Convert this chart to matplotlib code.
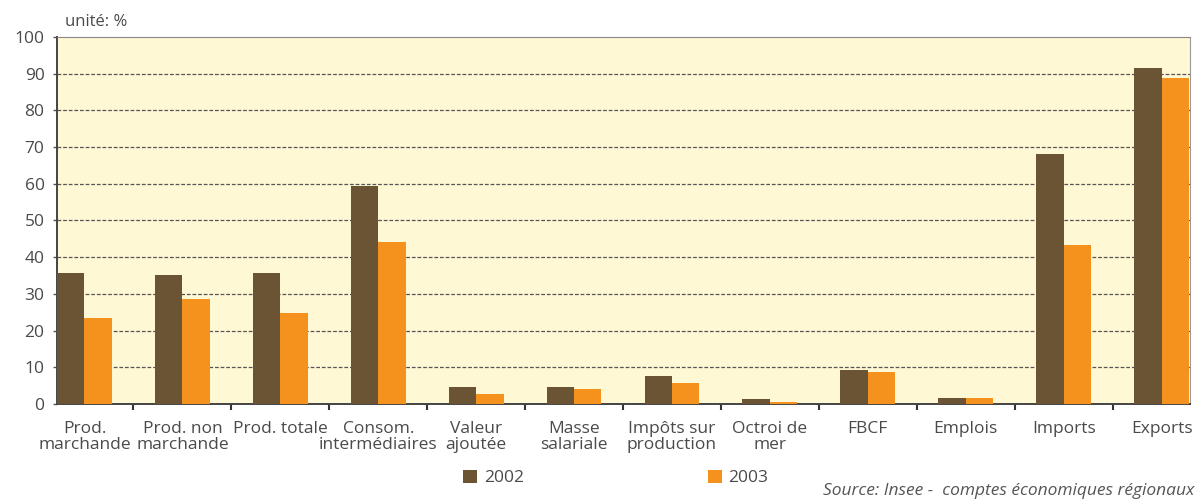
import numpy as np
import matplotlib
matplotlib.use("Agg")
import matplotlib.pyplot as plt

plt.rcParams['font.family'] = ['Open Sans', 'DejaVu Sans']

# === data ===
categories = ["Prod.\nmarchande", "Prod. non\nmarchande", "Prod. totale",
              "Consom.\nintermédiaires", "Valeur\najoutée", "Masse\nsalariale",
              "Impôts sur\nproduction", "Octroi de\nmer", "FBCF", "Emplois",
              "Imports", "Exports"]
vals_2002 = [35.8, 35.2, 35.8, 59.5, 4.6, 4.6, 7.7, 1.3, 9.2, 1.7, 68.2, 91.6]
vals_2003 = [23.3, 28.6, 24.7, 44.1, 2.8, 4.2, 5.8, 0.6, 8.8, 1.6, 43.4, 88.7]
series_labels = ["2002", "2003"]

BROWN = "#6b5434"
ORANGE = "#f5921e"
BG = "#fff8d4"
TXT = "#4a4a4a"

fig = plt.figure(figsize=(11.98, 4.99), dpi=100)
ax = fig.add_axes([0.0476, 0.1904, 0.9457, 0.7355])
ax.set_facecolor(BG)

x = np.arange(len(categories))
w = 0.28
b1 = ax.bar(x - w / 2, vals_2002, width=w, color=BROWN, label=series_labels[0], zorder=3)
b2 = ax.bar(x + w / 2, vals_2003, width=w, color=ORANGE, label=series_labels[1], zorder=3)

ax.set_xlim(-0.28, 11.29)
ax.set_ylim(0, 100)

# y axis
ax.set_yticks(np.arange(0, 101, 10))
ax.tick_params(axis='y', direction='out', length=3, width=1, color="#555555",
               labelsize=12.5, labelcolor=TXT, pad=6)
for yv in range(10, 100, 10):
    ax.axhline(yv, color="#555555", lw=0.9, ls=(0, (3, 1.5)), zorder=1)

# x axis: labels at centers, ticks between groups
ax.set_xticks(x)
ax.set_xticklabels(categories, fontsize=12.5, color=TXT, linespacing=1.0)
ax.tick_params(axis='x', which='major', length=0, pad=12)
ax.set_xticks(x[:-1] + 0.5, minor=True)
ax.tick_params(axis='x', which='minor', direction='out', length=4, width=1.5, color="#333333")

for side in ['left', 'bottom']:
    ax.spines[side].set_color("#444444")
    ax.spines[side].set_linewidth(1.4)
ax.spines['top'].set_color("#888888")
ax.spines['right'].set_color("#999999")

fig.text(0.054, 0.955, "unité: %", fontsize=12, color=TXT, ha='left', va='center')

fig.legend(handles=[b1, b2], loc='center', bbox_to_anchor=(0.514, 0.042),
           ncol=2, frameon=False, fontsize=12.5, handlelength=0.8, handleheight=0.8,
           handletextpad=0.4, columnspacing=10.6, labelcolor=TXT)

fig.text(0.997, 0.016, "Source: Insee -  comptes économiques régionaux",
         fontsize=12.5, style='italic', color="#555555", ha='right', va='center')

fig.savefig("out.png", dpi=100)
